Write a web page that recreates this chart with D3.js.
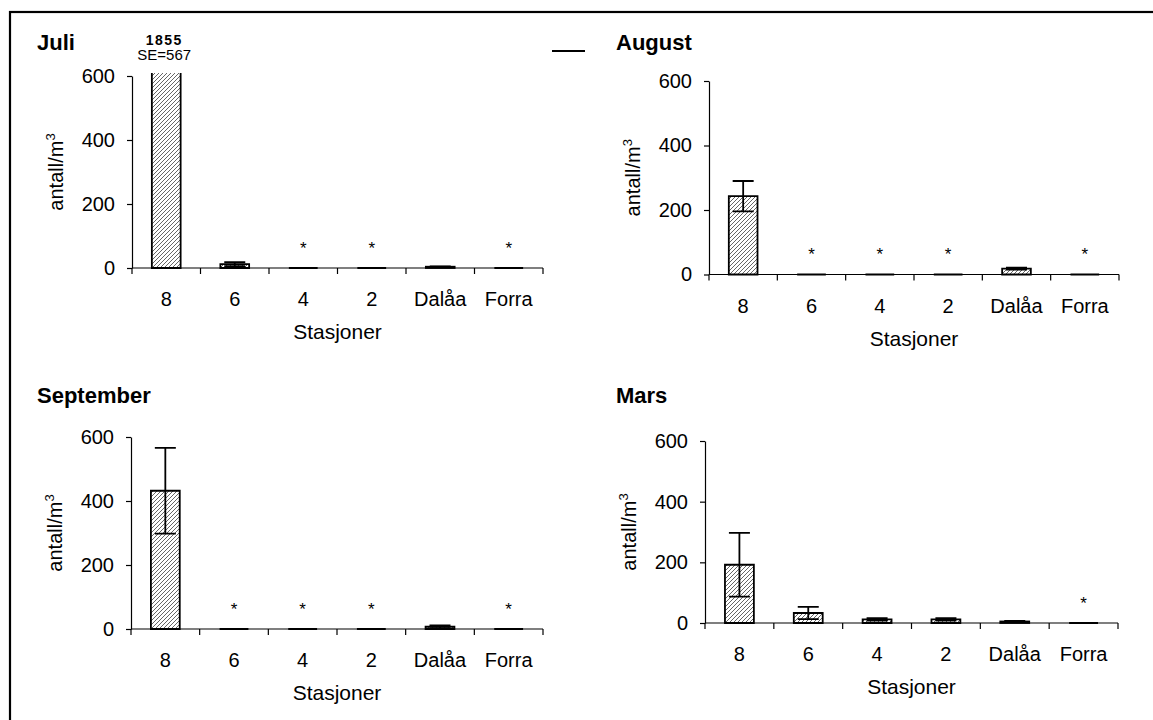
<!DOCTYPE html>
<html>
<head>
<meta charset="utf-8">
<script src="https://cdn.jsdelivr.net/npm/d3@7"></script>
<style>
  html, body { margin: 0; padding: 0; background: #fff; }
  svg { display: block; font-family: "Liberation Sans", Arial, sans-serif; }
</style>
</head>
<body>
<svg id="chart" width="1153" height="720"></svg>
<script>
// Stations along the river, upstream to downstream, plus two tributaries
const stations = ["8", "6", "4", "2", "Dalåa", "Forra"];
const yTicks = [0, 200, 400, 600];

// Mean density (antall/m3) and standard error per station and month
const juliMean = [1855, 12, 0, 0, 4, 0];
const juliSE = [567, 6, 0, 0, 1, 0];
const juliNone = [false, false, true, true, false, true];

const augustMean = [243, 0, 0, 0, 18, 0];
const augustSE = [47, 0, 0, 0, 3, 0];
const augustNone = [false, true, true, true, false, true];

const septemberMean = [432, 0, 0, 0, 7, 0];
const septemberSE = [134, 0, 0, 0, 4, 0];
const septemberNone = [false, true, true, true, false, true];

const marsMean = [192, 33, 12, 12, 5, 0];
const marsSE = [105, 20, 4, 4, 2, 0];
const marsNone = [false, false, false, false, false, true];

const yMax = 600;

// Panel layout
const panels = [
  { title: "Juli", mean: juliMean, se: juliSE, none: juliNone,
    left: 132, right: 543, zero: 268, top: 76, titleX: 37, titleY: 50 },
  { title: "August", mean: augustMean, se: augustSE, none: augustNone,
    left: 709, right: 1119, zero: 274.5, top: 81, titleX: 616, titleY: 50 },
  { title: "September", mean: septemberMean, se: septemberSE, none: septemberNone,
    left: 131, right: 543, zero: 629, top: 437, titleX: 37, titleY: 403 },
  { title: "Mars", mean: marsMean, se: marsSE, none: marsNone,
    left: 705, right: 1118, zero: 623, top: 441, titleX: 616, titleY: 403 }
];

const svg = d3.select("#chart");

// Diagonal hatch for the bars
const defs = svg.append("defs");
defs.append("pattern")
  .attr("id", "hatch")
  .attr("patternUnits", "userSpaceOnUse")
  .attr("width", 4).attr("height", 4)
  .call(p => {
    p.append("rect").attr("width", 4).attr("height", 4).attr("fill", "#fff");
    p.append("path")
      .attr("d", "M-1,1 l2,-2 M0,4 l4,-4 M3,5 l2,-2")
      .attr("stroke", "#555").attr("stroke-width", 0.9);
  });

// Outer frame
svg.append("rect")
  .attr("x", 10).attr("y", 12)
  .attr("width", 1160).attr("height", 730)
  .attr("fill", "none").attr("stroke", "#000").attr("stroke-width", 2.2);

// Short dash between the two upper panels
svg.append("line")
  .attr("x1", 552).attr("x2", 585).attr("y1", 51).attr("y2", 51)
  .attr("stroke", "#000").attr("stroke-width", 2);

panels.forEach((p, i) => {
  const g = svg.append("g");

  const x = d3.scaleBand().domain(stations).range([p.left, p.right]).paddingInner(0).paddingOuter(0);
  const y = d3.scaleLinear().domain([0, yMax]).range([p.zero, p.top]);
  const barW = x.bandwidth() * 0.42;
  const capW = 21;

  // Clip marks just above the top of the value axis
  const clipId = "clip" + i;
  defs.append("clipPath").attr("id", clipId)
    .append("rect")
    .attr("x", p.left).attr("y", y(yMax) - 3)
    .attr("width", p.right - p.left).attr("height", p.zero - y(yMax) + 10);

  // Title
  g.append("text")
    .attr("x", p.titleX).attr("y", p.titleY)
    .attr("font-size", 22).attr("font-weight", "bold")
    .text(p.title);

  // Y axis
  const yAxis = d3.axisLeft(y).tickValues(yTicks).tickSize(5).tickPadding(12).tickSizeOuter(0);
  const ya = g.append("g").attr("transform", `translate(${p.left},0)`).call(yAxis);
  ya.select(".domain").attr("stroke", "#000").attr("stroke-width", 1.2);
  ya.selectAll(".tick line").attr("stroke", "#000").attr("stroke-width", 1.2);
  ya.selectAll(".tick text").attr("font-size", 20).attr("fill", "#000")
    .attr("font-family", "Liberation Sans, Arial, sans-serif");

  // Y axis title with superscript
  const yl = g.append("text")
    .attr("transform", `translate(${p.left - 69},${(p.zero + p.top) / 2}) rotate(-90)`)
    .attr("text-anchor", "middle")
    .attr("font-size", 20);
  yl.append("tspan").text("antall/m");
  yl.append("tspan").attr("font-size", 13).attr("dy", -8).text("3");

  // Bars
  const marks = g.append("g").attr("clip-path", `url(#${clipId})`);
  stations.forEach((s, j) => {
    const cx = x(s) + x.bandwidth() / 2;
    const v = Math.min(p.mean[j], yMax * 1.05);
    const bar = d3.path();
    bar.rect(cx - barW / 2, y(v), barW, y(0) - y(v));
    marks.append("path")
      .attr("d", bar.toString())
      .attr("fill", "url(#hatch)")
      .attr("stroke", "#000").attr("stroke-width", 1.8);

    // Error bar (mean ± SE)
    const hi = y(p.mean[j] + p.se[j]);
    const lo = y(Math.max(0, p.mean[j] - p.se[j]));
    const eb = d3.path();
    const cw = p.se[j] === 0 ? 15 : capW;
    eb.moveTo(cx, hi); eb.lineTo(cx, lo);
    eb.moveTo(cx - cw / 2, hi); eb.lineTo(cx + cw / 2, hi);
    eb.moveTo(cx - cw / 2, lo); eb.lineTo(cx + cw / 2, lo);
    marks.append("path")
      .attr("d", eb.toString())
      .attr("fill", "none")
      .attr("stroke", "#000").attr("stroke-width", p.se[j] === 0 ? 1 : 1.8);

    // Asterisk where nothing was found
    if (p.none[j]) {
      g.append("text")
        .attr("x", cx).attr("y", y(0) - 14.5)
        .attr("text-anchor", "middle")
        .attr("font-size", 17)
        .text("*");
    }

    // Value annotation for bars that run past the axis
    if (p.mean[j] > yMax) {
      g.append("text")
        .attr("x", cx - 2).attr("y", y(yMax) - 31)
        .attr("text-anchor", "middle")
        .attr("font-size", 14).attr("font-weight", "bold")
        .attr("letter-spacing", 1.5)
        .text(p.mean[j]);
      g.append("text")
        .attr("x", cx - 2).attr("y", y(yMax) - 16)
        .attr("text-anchor", "middle")
        .attr("font-size", 15)
        .text("SE=" + p.se[j]);
    }
  });

  // X axis with ticks between categories
  const xa = g.append("g").attr("transform", `translate(0,${p.zero})`);
  xa.append("line")
    .attr("x1", p.left).attr("x2", p.right)
    .attr("stroke", "#000").attr("stroke-width", 1.2);
  const bounds = stations.map(s => x(s)).concat([p.right]);
  xa.selectAll(".bt").data(bounds).join("line")
    .attr("x1", d => d).attr("x2", d => d)
    .attr("y1", 0).attr("y2", 6)
    .attr("stroke", "#000").attr("stroke-width", 1.2);
  xa.selectAll(".lbl").data(stations).join("text")
    .attr("x", d => x(d) + x.bandwidth() / 2)
    .attr("y", 38)
    .attr("text-anchor", "middle")
    .attr("font-size", 20)
    .text(d => d);

  // X axis title
  g.append("text")
    .attr("x", (p.left + p.right) / 2)
    .attr("y", p.zero + 71)
    .attr("text-anchor", "middle")
    .attr("font-size", 21)
    .text("Stasjoner");
});
</script>
</body>
</html>
